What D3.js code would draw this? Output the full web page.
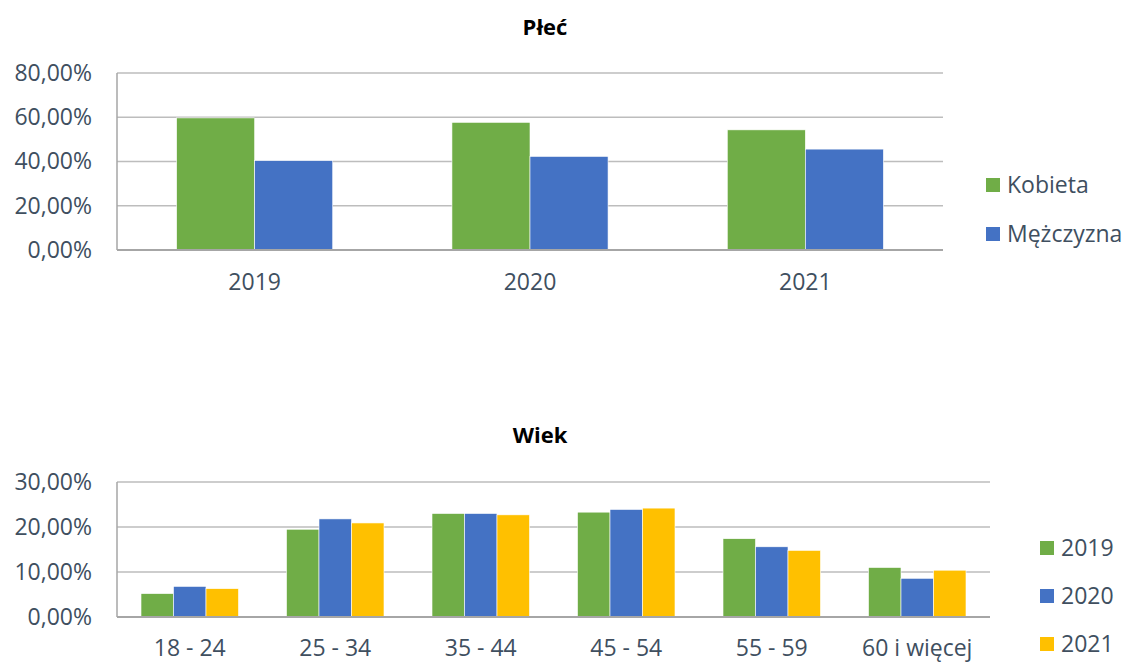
<!DOCTYPE html>
<html lang="pl">
<head>
  <meta charset="UTF-8" />
  <title>Płeć i wiek</title>
  <script src="https://cdn.jsdelivr.net/npm/d3@7"></script>
  <style>
    body { margin: 0; background: #fff; }
    text { font-family: "Open Sans", "Noto Sans", sans-serif; fill: #404f5f; }
  </style>
</head>
<body>
<script>
  // --- data: Płeć ---
  var years = ["2019", "2020", "2021"];
  var genderSeries = ["Kobieta", "Mężczyzna"];
  var kobieta = [59.7, 57.7, 54.3];
  var mezczyzna = [40.4, 42.3, 45.6];
  var genderTicks = [0, 20, 40, 60, 80];

  // --- data: Wiek ---
  var ageGroups = ["18 - 24", "25 - 34", "35 - 44", "45 - 54", "55 - 59", "60 i więcej"];
  var ageSeries = ["2019", "2020", "2021"];
  var age2019 = [5.2, 19.5, 23.0, 23.3, 17.4, 11.0];
  var age2020 = [6.8, 21.8, 23.0, 23.9, 15.6, 8.6];
  var age2021 = [6.3, 20.9, 22.7, 24.2, 14.8, 10.4];
  var ageTicks = [0, 10, 20, 30];

  var w = 1131, h = 665;
  var fs = "23px";
  var svg = d3.select("body").append("svg")
    .attr("width", w)
    .attr("height", h);

  function fmt(v) {
    return d3.format(".2f")(v).replace(".", ",") + "%";
  }

  function drawChart(opt) {
    var g = svg.append("g");

    g.append("text")
      .attr("x", opt.titleX)
      .attr("y", opt.titleY)
      .attr("text-anchor", "middle")
      .style("font-size", "22px")
      .style("font-weight", "bold")
      .style("fill", "#000")
      .text(opt.title);

    var x0 = d3.scaleBand()
      .domain(opt.categories)
      .range([opt.left, opt.right])
      .padding(0);

    var gap = opt.gap;
    var x1 = d3.scaleBand()
      .domain(opt.series)
      .range([x0.bandwidth() * gap / 2, x0.bandwidth() * (1 - gap / 2)])
      .padding(0);

    var y = d3.scaleLinear()
      .domain([0, d3.max(opt.ticks)])
      .range([opt.bottom, opt.top]);

    // gridlines
    g.selectAll("line.grid")
      .data(opt.ticks.filter(function(t) { return t > 0; }))
      .enter()
      .append("line")
      .attr("x1", opt.left)
      .attr("x2", opt.right)
      .attr("y1", function(d) { return y(d); })
      .attr("y2", function(d) { return y(d); })
      .style("stroke", "#bdbdbd")
      .style("stroke-width", 1.5);

    // y labels
    var yAxis = d3.axisLeft(y).tickValues(opt.ticks).tickSize(0).tickPadding(25).tickFormat(fmt);
    var ya = g.append("g")
      .attr("transform", "translate(" + opt.left + ",0)")
      .call(yAxis);
    ya.select(".domain").remove();
    ya.selectAll("text").style("font-size", fs);

    // bars
    opt.series.forEach(function(s, si) {
      g.selectAll("rect.s" + si)
        .data(opt.values[si])
        .enter()
        .append("rect")
        .attr("x", function(d, i) { return x0(opt.categories[i]) + x1(s); })
        .attr("width", x1.bandwidth())
        .attr("y", function(d) { return y(d); })
        .attr("height", function(d) { return y(0) - y(d); })
        .style("fill", opt.colors[si])
        .style("stroke", "#fff")
        .style("stroke-width", 0.6);
    });

    // left axis line and baseline
    g.append("line")
      .attr("x1", opt.left).attr("x2", opt.left)
      .attr("y1", opt.top).attr("y2", opt.bottom)
      .style("stroke", "#a6a6a6").style("stroke-width", 1.5);
    g.append("line")
      .attr("x1", opt.left).attr("x2", opt.right)
      .attr("y1", opt.bottom).attr("y2", opt.bottom)
      .style("stroke", "#a6a6a6").style("stroke-width", 2);

    // x labels
    var xAxis = d3.axisBottom(x0).tickSize(0).tickPadding(opt.xPad);
    var xa = g.append("g")
      .attr("transform", "translate(0," + opt.bottom + ")")
      .call(xAxis);
    xa.select(".domain").remove();
    xa.selectAll("text").style("font-size", fs);

    // legend
    var lg = g.selectAll("g.leg")
      .data(opt.series)
      .enter()
      .append("g")
      .attr("transform", function(d, i) {
        return "translate(" + opt.legendX + "," + (opt.legendY + i * opt.legendStep) + ")";
      });
    lg.append("rect")
      .attr("x", 0).attr("y", -7)
      .attr("width", 14).attr("height", 14)
      .style("fill", function(d, i) { return opt.colors[i]; });
    lg.append("text")
      .attr("x", 21)
      .attr("y", 0)
      .attr("dy", "0.35em")
      .style("font-size", fs)
      .text(function(d) { return d; });
  }

  drawChart({
    title: "Płeć", titleX: 545, titleY: 35,
    categories: years, series: genderSeries,
    values: [kobieta, mezczyzna],
    colors: ["#70ad47", "#4472c4"],
    ticks: genderTicks,
    left: 117, right: 943, top: 73, bottom: 250,
    gap: 0.433, xPad: 24,
    legendX: 986, legendY: 185, legendStep: 49
  });

  drawChart({
    title: "Wiek", titleX: 540, titleY: 443,
    categories: ageGroups, series: ageSeries,
    values: [age2019, age2020, age2021],
    colors: ["#70ad47", "#4472c4", "#ffc000"],
    ticks: ageTicks,
    left: 117, right: 990, top: 482, bottom: 617,
    gap: 0.33, xPad: 23,
    legendX: 1040, legendY: 548, legendStep: 48
  });
</script>
</body>
</html>
